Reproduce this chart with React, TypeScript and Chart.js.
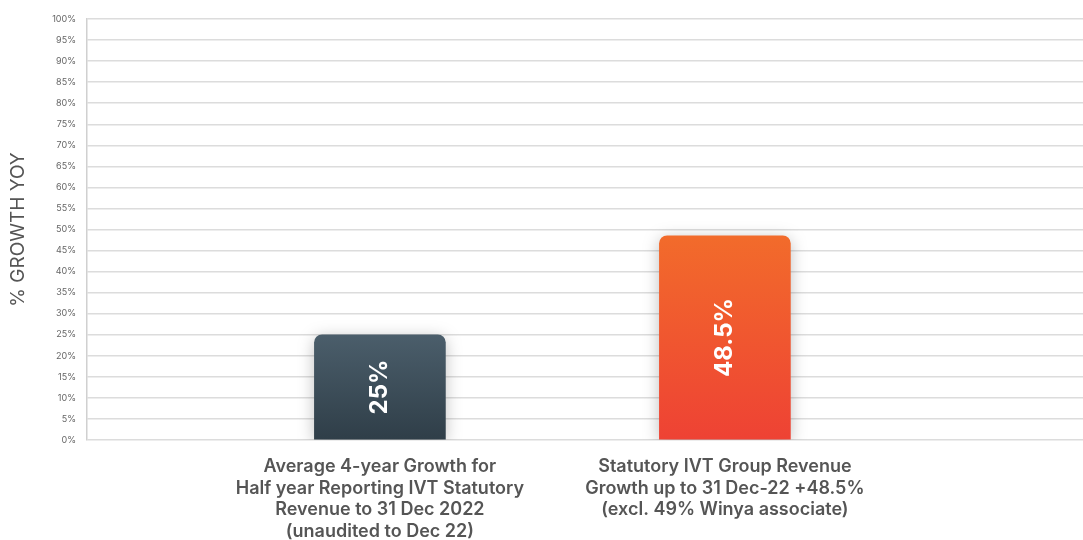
import React, { useEffect, useRef } from "react";
import { Chart, registerables } from "chart.js";

Chart.register(...registerables);

const categories: string[][] = [
  ["Average 4-year Growth for", "Half year Reporting IVT Statutory", "Revenue to 31 Dec 2022", "(unaudited to Dec 22)"],
  ["Statutory IVT Group Revenue", "Growth up to 31 Dec-22 +48.5%", "(excl. 49% Winya associate)"],
];
const growthValues = [25, 48.5];
const valueLabels = ["25%", "48.5%"];
const barGradients = [
  ["#4b5e6b", "#2f3e48"],
  ["#f26b2b", "#ee4234"],
];
const yTitle = "% GROWTH YOY";

const FONT = "Inter, 'Open Sans', 'DejaVu Sans', sans-serif";

export default function App() {
  const ref = useRef<HTMLCanvasElement>(null);
  useEffect(() => {
    const canvas = ref.current!;
    const shadowPlugin = {
      id: "shadow",
      beforeDatasetsDraw(chart: any) {
        const ctx = chart.ctx;
        ctx.save();
        ctx.shadowColor = "rgba(0,0,0,0.25)";
        ctx.shadowBlur = 16;
        ctx.shadowOffsetX = 0;
        ctx.shadowOffsetY = 3;
      },
      afterDatasetsDraw(chart: any) {
        const ctx = chart.ctx;
        ctx.restore();
        const meta = chart.getDatasetMeta(0);
        meta.data.forEach((bar: any, i: number) => {
          const { x, y, base } = bar.getProps(["x", "y", "base"], true);
          ctx.save();
          ctx.translate(x, (y + base) / 2);
          ctx.rotate(-Math.PI / 2);
          ctx.fillStyle = "#ffffff";
          ctx.font = `700 24px ${FONT}`;
          ctx.textAlign = "center";
          ctx.textBaseline = "middle";
          ctx.fillText(valueLabels[i], 0, 0);
          ctx.restore();
        });
      },
    };
    const chart = new Chart(canvas, {
      type: "bar",
      data: {
        datasets: [
          {
            data: growthValues.map((v, i) => ({ x: i, y: v })),
            barThickness: 131,
            borderRadius: { topLeft: 8, topRight: 8, bottomLeft: 0, bottomRight: 0 },
            borderSkipped: "bottom",
            backgroundColor: (c: any) => {
              const chart = c.chart;
              const i = c.dataIndex;
              if (!chart.chartArea || i === undefined) return barGradients[0][0];
              const ys = chart.scales.y;
              const top = ys.getPixelForValue(growthValues[i]);
              const bottom = ys.getPixelForValue(0);
              const g = chart.ctx.createLinearGradient(0, top, 0, bottom);
              g.addColorStop(0, barGradients[i][0]);
              g.addColorStop(1, barGradients[i][1]);
              return g;
            },
          },
        ],
      },
      options: {
        responsive: false,
        animation: false,
        layout: { padding: { top: 19, right: 0, left: 0, bottom: 0 } },
        plugins: { legend: { display: false }, tooltip: { enabled: false } },
        scales: {
          x: {
            type: "linear",
            offset: false,
            min: -0.849,
            max: 2.038,
            grid: { display: false, drawTicks: false },
            border: { display: false },
            afterBuildTicks: (s: any) => {
              s.ticks = categories.map((_, i) => ({ value: i }));
            },
            afterFit: (s: any) => {
              s.height = 100;
            },
            ticks: {
              autoSkip: false,
              maxRotation: 0,
              padding: 16,
              color: "#555555",
              font: { family: FONT, size: 18, weight: 600, lineHeight: 1.2 },
              callback: (v: any) => categories[v] ?? "",
            },
          },
          y: {
            min: 0,
            max: 100,
            afterFit: (s: any) => {
              s.width = 87;
            },
            grid: { color: "#dcdcdc", lineWidth: 1.5, drawTicks: false },
            border: { display: true, color: "#d0d0d0", width: 1.5 },
            ticks: {
              stepSize: 5,
              padding: 11,
              color: "#666666",
              font: { family: FONT, size: 9 },
              callback: (v: any) => `${v}%`,
            },
            title: {
              display: true,
              text: yTitle,
              color: "#555555",
              font: { family: FONT, size: 19 },
              padding: { top: 7, bottom: 0 },
            },
          },
        },
      },
      plugins: [shadowPlugin],
    } as any);
    return () => chart.destroy();
  }, []);
  return (
    <div style={{ position: "fixed", left: 0, top: 0, width: 1083, height: 540, background: "#fff" }}>
      <canvas ref={ref} width={1083} height={540} />
    </div>
  );
}
